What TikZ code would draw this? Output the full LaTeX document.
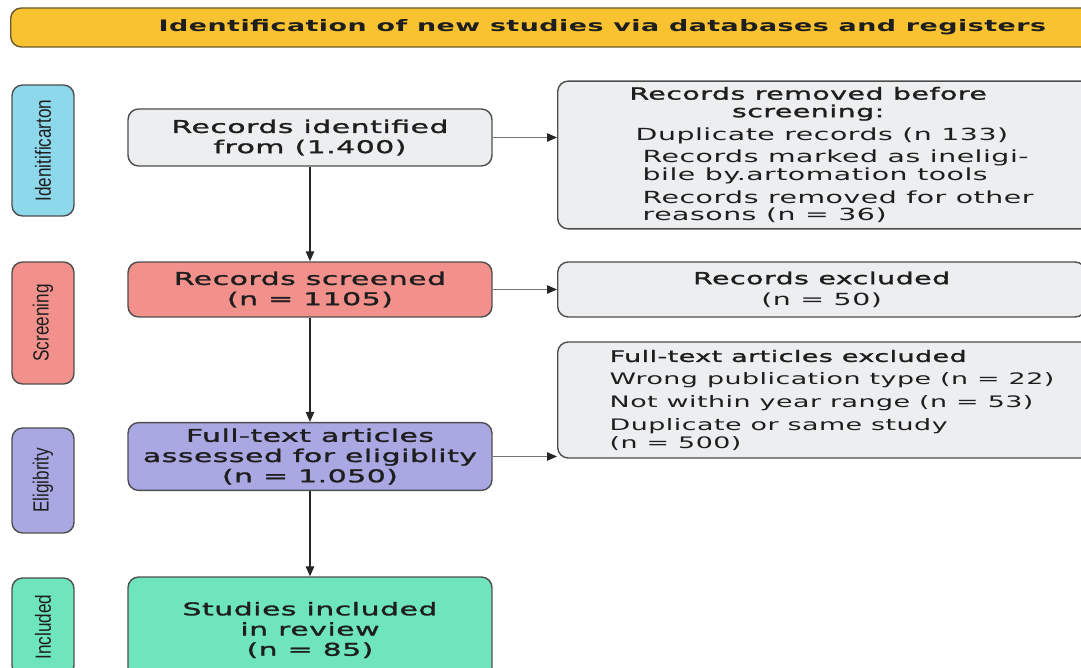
\documentclass[tikz,border=0pt]{standalone}
\usepackage{fontspec}
\setmainfont{DejaVu Sans}[FakeStretch=1.7, LetterSpace=3]
\newfontfamily\semibold{DejaVu Sans}[FakeStretch=1.7, LetterSpace=3, FakeBold=1.6]
\newfontfamily\sidefont{Liberation Sans}[FakeStretch=0.78]
\usetikzlibrary{arrows.meta,positioning}

\definecolor{bannerfill}{HTML}{F8C230}
\definecolor{bannerline}{HTML}{6A5A2C}
\definecolor{identfill}{HTML}{8ED8EC}
\definecolor{greyfill}{HTML}{EDEEF0}
\definecolor{screenfill}{HTML}{F2918C}
\definecolor{eligfill}{HTML}{AAA8E2}
\definecolor{inclfill}{HTML}{6FE5BE}
\definecolor{boxline}{HTML}{4D4D4D}
\definecolor{inktext}{HTML}{1E1E1E}

\begin{document}
\begin{tikzpicture}[
    x=0.02cm, y=-0.02cm,
    text=inktext,
    banner/.style={draw=bannerline, fill=bannerfill, rounded corners=6pt, line width=0.8pt, minimum height=0.78cm, minimum width=22cm, inner xsep=2.96cm, anchor=west, align=left, font=\bfseries\fontsize{9}{11}\selectfont},
    phase/.style={draw=boxline, rounded corners=6pt, line width=0.8pt, minimum height=1.24cm, rotate=90, font=\sidefont\fontsize{12.5}{13}\selectfont},
    stage/.style={draw=boxline, rounded corners=6pt, line width=0.8pt, minimum width=7.28cm, align=center, font=\semibold\fontsize{10}{11.5}\selectfont},
    outbox/.style={draw=boxline, fill=greyfill, rounded corners=6pt, line width=0.8pt, minimum width=10.56cm, anchor=west, align=left, font=\fontsize{9.5}{10}\selectfont},
    arrow/.style={-{Triangle[length=2mm, width=1.7mm]}, line width=0.7pt, draw=black!85},
    sidearrow/.style={-{Triangle[length=2mm, width=1.7mm, color=black!85]}, line width=0.5pt, draw=black!55}
]
\useasboundingbox (0,0) rectangle (1081,668);

\node[banner] (head) at (10,27.5) {Identification of new studies via databases and registers};

% phases on the left
\node[phase, fill=identfill, minimum width=2.62cm] (pid) at (43,150.5) {Idenitificarton};
\node[phase, fill=screenfill, minimum width=2.44cm] (pscr) at (43,323) {Screening};
\node[phase, fill=eligfill, minimum width=2.1cm] (pel) at (43,480.5) {Eligibrity};
\node[phase, fill=inclfill, minimum width=1.96cm] (pinc) at (43,627) {Included};

% main flow
\node[stage, fill=greyfill, minimum height=1.14cm] (ident) at (310,137.5) {Records identified\\from (1.400)};
\node[stage, fill=screenfill, minimum height=1.1cm] (scr) at (310,289.5) {Records screened\\(n = 1105)};
\node[stage, fill=eligfill, minimum height=1.3cm] (assess) at (310,456.5) {Full-text articles\\assessed for eligiblity\\(n = 1.050)};
\node[stage, fill=inclfill, minimum height=2.12cm] (incl) at (310,630) {Studies included\\in review\\(n = 85)};

% exclusions on the right
\node[outbox, minimum height=2.92cm, inner xsep=1.56cm] (rm) at (557,155) {%
  \makebox[6.9cm][c]{\semibold Records removed before}\\
  \makebox[6.9cm][c]{\semibold screening:}\\[3pt]
  Duplicate records (n 133)\\[3pt]
  \hspace*{4pt}Records marked as ineligi-\\
  \hspace*{4pt}bile by.artomation tools\\[3pt]
  \hspace*{4pt}Records removed for other\\
  \hspace*{4pt}reasons (n = 36)};
\node[outbox, minimum height=1.1cm, align=center] (ex) at (557,289.5) {{\semibold Records excluded}\\[2pt](n = 50)};
\node[outbox, minimum height=2.32cm, inner xsep=1.04cm, font=\fontsize{9}{10}\selectfont] (ftex) at (557,400) {%
  {\semibold Full-text articles excluded}\\[3pt]
  Wrong publication type (n = 22)\\[3pt]
  Not within year range (n = 53)\\[3pt]
  Duplicate or same study\\
  (n = 500)};

\foreach \i/\j in {ident/scr, scr/assess, assess/incl}
  \draw[arrow] (\i) -- (\j);
\foreach \i/\j in {ident/rm, scr/ex, assess/ftex}
  \draw[sidearrow] (\i.east) -- (\i.east -| \j.west);
\end{tikzpicture}
\end{document}
